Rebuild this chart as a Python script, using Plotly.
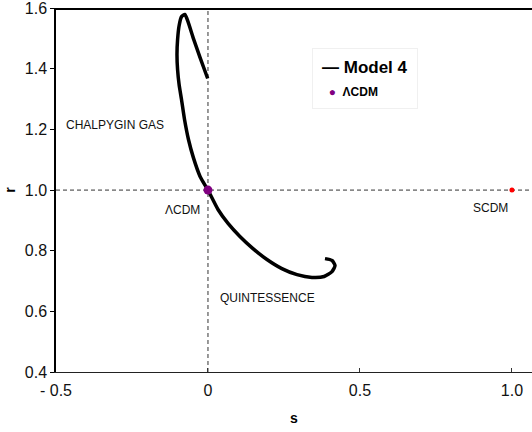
import plotly.graph_objects as go

# statefinder trajectory (s, r) for Model 4
s_vals = [-0.001, -0.026, -0.049, -0.066, -0.076, -0.087, -0.095, -0.100, -0.102,
          -0.100, -0.095, -0.087, -0.077, -0.064, -0.048, -0.026, 0.001, 0.033,
          0.066, 0.105, 0.148, 0.194, 0.243, 0.293, 0.342, 0.382, 0.408, 0.418,
          0.408, 0.385]
r_vals = [1.368, 1.437, 1.503, 1.556, 1.579, 1.572, 1.542, 1.496, 1.447,
          1.397, 1.348, 1.298, 1.232, 1.166, 1.107, 1.045, 0.998, 0.936,
          0.890, 0.847, 0.807, 0.771, 0.741, 0.721, 0.712, 0.715, 0.731, 0.751,
          0.768, 0.774]

# fixed points
lcdm_s, lcdm_r = [0.0], [1.0]
scdm_s, scdm_r = [1.0], [1.0]

x_ticks = [-0.5, 0, 0.5, 1.0]
x_tick_text = ["- 0.5", "0", "0.5", "1.0"]
y_ticks = [0.4, 0.6, 0.8, 1.0, 1.2, 1.4, 1.6]
y_tick_text = ["0.4", "0.6", "0.8", "1.0", "1.2", "1.4", "1.6"]

x_range = [-0.5, 1.066]
y_range = [0.4, 1.6005]

font_family = "Liberation Sans, Arial, sans-serif"

fig = go.Figure()

# reference lines r = 1 and s = 0
fig.add_trace(go.Scatter(x=x_range, y=[1.0, 1.0], mode="lines",
                         line=dict(color="#333333", width=1, dash="4px,3px"),
                         hoverinfo="skip"))
fig.add_trace(go.Scatter(x=[0.0, 0.0], y=[0.4, 1.6], mode="lines",
                         line=dict(color="#333333", width=1, dash="4px,3px"),
                         hoverinfo="skip"))

# heavy top edge of the frame (half of the stroke falls inside the plot area)
fig.add_trace(go.Scatter(x=x_range, y=[y_range[1], y_range[1]], mode="lines",
                         line=dict(color="black", width=4), hoverinfo="skip"))

# trajectory
fig.add_trace(go.Scatter(x=s_vals, y=r_vals, mode="lines", name="Model 4",
                         line=dict(color="black", width=3.5, shape="spline", smoothing=0.6)))

fig.add_trace(go.Scatter(x=lcdm_s, y=lcdm_r, mode="markers", name="ΛCDM",
                         marker=dict(color="#800080", size=9)))
fig.add_trace(go.Scatter(x=scdm_s, y=scdm_r, mode="markers", name="SCDM",
                         marker=dict(color="red", size=5)))

ann_font = dict(family=font_family, size=12, color="#111111")
annotations = [
    dict(x=-0.475, y=1.215, text="CHALPYGIN GAS", xanchor="left"),
    dict(x=-0.02, y=0.935, text="ΛCDM", xanchor="right"),
    dict(x=0.93, y=0.94, text="SCDM", xanchor="center"),
    dict(x=0.033, y=0.645, text="QUINTESSENCE", xanchor="left"),
]
for a in annotations:
    fig.add_annotation(xref="x", yref="y", showarrow=False, font=ann_font,
                       yanchor="middle", **a)

# key box drawn as a bordered text block
key_text = ("<span style='font-size:17px'><b>— Model 4</b></span><br>"
            "<span style='font-size:12px'>  <span style='color:#800080'>●</span>"
            "  <b>ΛCDM</b></span>")
fig.add_annotation(xref="paper", yref="paper", x=0.538, y=0.89,
                   xanchor="left", yanchor="top", showarrow=False, align="left",
                   text=key_text, font=dict(family=font_family, size=18, color="black"),
                   bgcolor="white", bordercolor="#f0f0f0", borderwidth=1, borderpad=9)

fig.update_layout(
    width=532, height=432,
    margin=dict(l=56, r=0, t=8, b=60),
    paper_bgcolor="white", plot_bgcolor="white",
    font=dict(family=font_family, color="black"),
    showlegend=False,
    xaxis=dict(range=x_range, tickvals=x_ticks, ticktext=x_tick_text,
               ticks="inside", ticklen=4, tickcolor="#333333",
               showline=True, linecolor="#222222", linewidth=1,
               showgrid=False, zeroline=False, ticklabelstandoff=4,
               tickfont=dict(size=16, color="#111111"),
               title=dict(text="<b>s</b>", font=dict(size=14), standoff=14)),
    yaxis=dict(range=y_range, tickvals=y_ticks, ticktext=y_tick_text,
               ticks="outside", ticklen=4, tickcolor="black",
               showline=True, linecolor="black", linewidth=1.5,
               showgrid=False, zeroline=False, ticklabeloverflow="allow",
               tickfont=dict(size=16, color="#111111"),
               title=dict(text="<b>r</b>", font=dict(size=14), standoff=6)),
)

fig.write_html("out.html")
